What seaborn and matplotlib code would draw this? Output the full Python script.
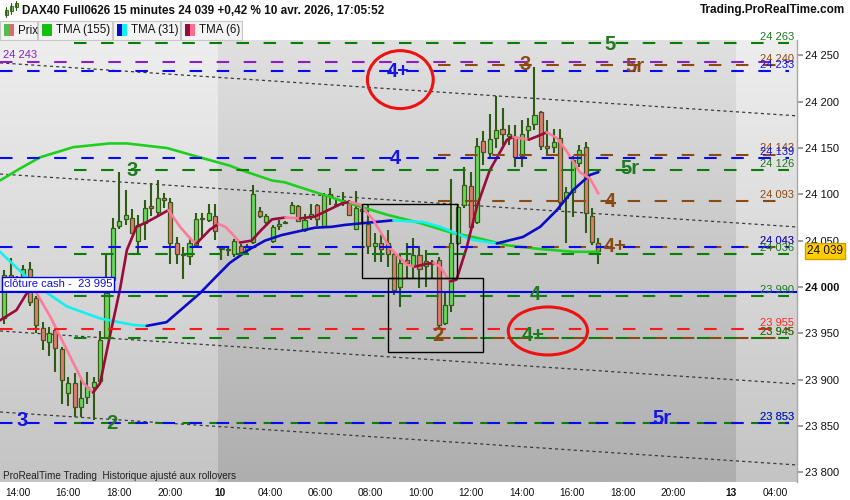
import numpy as np
import matplotlib
matplotlib.use("Agg")
import matplotlib.pyplot as plt
import matplotlib.transforms as mtransforms
import seaborn as sns
from matplotlib.patches import Rectangle, Ellipse

sns.set_theme(style="white")
plt.rcParams["font.family"] = ["Liberation Sans", "DejaVu Sans"]

# ---------------- data (15-minute bars, index 0 = 9 avr. 13:30) ----------------
opens = [23966, 24013, 24004, 24008, 24019, 23988, 23956, 23941, 23953, 23933,
         23886, 23896, 23870, 23881, 23892, 23898, 23945, 24007, 24066, 24073,
         24075, 24050, 24069, 24087, 24081, 24096, 24092, 24048, 24035, 24033,
         24045, 24073, 24072, 24077,
         24042, 24040, 24036, 24044, 24040, 24049, 24082, 24070, 24050, 24066,
         24069, 24080, 24087, 24061, 24076, 24088, 24066, 24100, 24090, 24092,
         24092, 24063, 24084, 24068, 24044, 24047, 24047, 24036, 24000, 24029,
         24024, 24035, 24023, 24027, 24029, 23961, 23981, 24047, 24088, 24109,
         24070, 24158, 24145, 24161, 24171, 24163, 24162, 24141, 24169, 24176,
         24189, 24152, 24151, 24161, 24096, 24103, 24134, 24151, 24077, 24048]
highs = [24018, 24031, 24012, 24024, 24027, 23990, 23962, 23957, 23955, 23935,
         23903, 23907, 23900, 23908, 23903, 23952, 24036, 24074, 24124, 24105,
         24084, 24078, 24094, 24112, 24116, 24101, 24096, 24054, 24043, 24052,
         24080, 24080, 24090, 24090,
         24043, 24042, 24052, 24046, 24046, 24110, 24086, 24079, 24067, 24072,
         24071, 24092, 24089, 24079, 24090, 24090, 24101, 24107, 24094, 24103,
         24094, 24104, 24090, 24088, 24058, 24056, 24062, 24037, 24036, 24047,
         24053, 24044, 24040, 24029, 24032, 23993, 24117, 24090, 24130, 24124,
         24161, 24168, 24187, 24206, 24193, 24175, 24175, 24180, 24182, 24238,
         24190, 24180, 24171, 24171, 24108, 24141, 24153, 24157, 24085, 24053]
lows = [23960, 24000, 23996, 24004, 23979, 23950, 23932, 23925, 23908, 23874,
        23871, 23860, 23860, 23874, 23856, 23896, 23944, 23999, 24063, 24067,
        24058, 24036, 24051, 24077, 24078, 24085, 24025, 24025, 24009, 24024,
        24043, 24054, 24070, 24051,
        24029, 24033, 24032, 24035, 24036, 24046, 24075, 24066, 24048, 24062,
        24068, 24079, 24070, 24059, 24072, 24066, 24065, 24089, 24086, 24087,
        24077, 24062, 24069, 24036, 24027, 24027, 24022, 23991, 23978, 24009,
        24009, 23999, 24000, 24009, 23955, 23959, 23973, 24045, 24085, 24060,
        24068, 24132, 24140, 24150, 24153, 24153, 24130, 24130, 24160, 24170,
        24148, 24141, 24145, 24083, 24047, 24076, 24130, 24058, 24045, 24025]
closes = [24013, 24004, 24008, 24019, 23984, 23959, 23943, 23950, 23934, 23900,
          23896, 23870, 23880, 23892, 23897, 23943, 23993, 24064, 24071, 24078,
          24058, 24067, 24085, 24085, 24096, 24094, 24047, 24036, 24036, 24048,
          24073, 24075, 24080, 24060,
          24041, 24041, 24050, 24038, 24044, 24100, 24077, 24077, 24065, 24068,
          24070, 24088, 24071, 24072, 24079, 24073, 24099, 24098, 24088, 24094,
          24078, 24085, 24082, 24044, 24047, 24041, 24036, 23997, 24026, 24026,
          24034, 24019, 24028, 24025, 23959, 23981, 24047, 24086, 24110, 24065,
          24152, 24146, 24160, 24170, 24165, 24165, 24140, 24165, 24174, 24186,
          24152, 24150, 24157, 24092, 24103, 24137, 24148, 24080, 24049, 24039]

# moving averages (bar index, price)
tma155_x = [-0.67, 2.5, 5.6, 10.8, 16.5, 19.2, 25.5, 30.6, 35.3, 37.2, 41.9, 43.9,
            50.2, 53.3, 59.9, 65.1, 70.3, 73.4, 78.7, 83.9, 89.1, 93]
tma155_y = [24115, 24128, 24140, 24151, 24155, 24155, 24150, 24140, 24131, 24126,
            24115, 24113, 24099, 24092, 24078, 24069, 24058, 24054, 24045, 24041,
            24038, 24038]
tma31_x = [-0.67, 4.5, 9.8, 15.0, 20.2, 22.3, 25.4, 30.6, 33.0, 35.3, 38.2, 40.8,
           43.4, 46.0, 48.6, 51.3, 53.3, 57.8, 60.9, 65.6, 68.2, 72.1, 73.4, 77.1,
           81.2, 83.9, 86.5, 89.1, 91.7, 93.0]
tma31_y = [24038, 24004, 23979, 23966, 23959, 23958, 23962, 23993, 24010, 24026,
           24040, 24050, 24056, 24060, 24064, 24065, 24067, 24070, 24072, 24070,
           24065, 24054, 24051, 24047, 24054, 24065, 24083, 24105, 24121, 24124]
tma6_x = [-0.67, 1.9, 3.5, 4.5, 7.2, 9.8, 12.4, 13.9, 15.0, 16.5, 18.1, 19.2, 20.7,
          22.3, 23.9, 25.7, 27.5, 29.3, 30.1, 32.2, 33.5, 34.6, 35.6, 36.9, 38.7,
          40.3, 41.9, 44.0, 46.3, 48.6, 50.7, 52.8, 54.1, 55.7, 57.8, 60.4, 63.0,
          64.3, 66.1, 67.2, 68.2, 69.8, 70.8, 72.4, 74.0, 76.0, 78.7, 79.7, 82.1,
          83.9, 84.9, 86.5, 88.1, 90.1, 91.7, 93.0]
tma6_y = [23964, 23975, 23993, 24000, 23968, 23932, 23896, 23886, 23896, 23946,
          23997, 24040, 24065, 24070, 24076, 24083, 24065, 24051, 24047, 24062,
          24068, 24065, 24058, 24048, 24050, 24062, 24073, 24075, 24074, 24076,
          24083, 24090, 24092, 24089, 24072, 24042, 24024, 24022, 24025, 24026,
          24022, 24006, 24008, 24043, 24087, 24126, 24159, 24162, 24159, 24164,
          24167, 24161, 24146, 24124, 24117, 24101]

# horizontal levels
level_values = [24263, 24243, 24240, 24233, 24143, 24139, 24126, 24093, 24043,
                24043, 24036, 23990, 23955, 23945, 23945, 23853, 23853]
level_kinds = ["green", "purple", "brown", "blue", "brown", "blue", "green", "brown",
               "brown", "blue", "green", "green", "red", "brown", "green", "green", "blue"]
cash_close = 23995

# sloping dotted channel lines: price at left edge / right edge of the chart
trend_left = [24242, 24122, 23952.5, 23865]
trend_right = [24184.8, 24064.8, 23895.3, 23807.8]

# wave labels
wave_texts = ["5", "4+", "3", "5r", "4", "5r", "3", "4", "4+", "4", "4+", "2", "3", "2", "5r"]
wave_kinds = ["green", "blue", "brown", "brown", "blue", "green", "green", "brown",
              "brown", "green", "green", "brown", "blue", "green", "blue"]
wave_x = [94.8, 61.6, 81.5, 98.7, 61.2, 98.0, 20.0, 94.8, 95.6, 83.1, 82.8, 67.9, 2.8, 16.9, 103.0]
wave_y = [24262, 24233, 24240, 24238, 24139, 24128, 24126, 24092, 24044, 23992,
          23948, 23948, 23856, 23853, 23858]

tick_labels = ["14:00", "16:00", "18:00", "20:00", "10", "04:00", "06:00", "08:00",
               "10:00", "12:00", "14:00", "16:00", "18:00", "20:00", "13", "04:00"]
tick_pos = [2.15, 9.97, 17.96, 25.94, 33.77, 41.6, 49.4, 57.3, 65.2, 73.1, 81.1,
            88.9, 96.9, 104.7, 113.8, 120.7]
session_breaks = [33.5, 114.5]
last_price = closes[-1]

# ---------------- styling ----------------
COL = {"green": "#0a7d0a", "purple": "#8a1fc4", "brown": "#8b4a12", "blue": "#0a0af0",
       "red": "#ff1a1a"}
TXT = {"green": "#1f7a1f", "purple": "#8a1fc4", "brown": "#8b4a12", "blue": "#1414e6",
       "red": "#ff2a2a"}
level_start = {"green": 10.9, "purple": -0.7, "brown": 67.9, "blue": -0.7, "red": -0.7}

XL, XR = -0.67, 124.1
YB, YT = 23789.4, 24266.7

fig = plt.figure(figsize=(8.5, 5), dpi=100, facecolor="white")
ax = fig.add_axes([0, 18 / 500, 797 / 850, 442 / 500])
blend = mtransforms.blended_transform_factory(ax.transAxes, ax.transData)


def grad(top, bottom, n=256):
    t = np.linspace(0, 1, n)[:, None]
    top = np.array(top) / 255.0
    bottom = np.array(bottom) / 255.0
    return (top[None, :] * (1 - t) + bottom[None, :] * t)[:, None, :]


light = grad((238, 238, 238), (196, 196, 196))
dark = grad((224, 224, 224), (174, 174, 174))
bounds = [XL, session_breaks[0], session_breaks[1], XR]
for i, img in enumerate([light, dark, light]):
    ax.imshow(img, extent=(bounds[i], bounds[i + 1], YB, YT), aspect="auto",
              origin="upper", zorder=0, interpolation="bilinear")

# dotted channel lines
for a, b in zip(trend_left, trend_right):
    ax.plot([XL, XR], [a, b], color="#3a3a3a", lw=0.9, ls=(0, (2.5, 2.5)), zorder=1)

# candles
k = np.arange(len(opens))
o = np.array(opens); c = np.array(closes); h = np.array(highs); l = np.array(lows)
up = c >= o
ax.vlines(k, l, h, color="#2f5a12", lw=1.5, zorder=3)
body_h = np.maximum(np.abs(c - o), 1.0)
ax.bar(k, body_h, bottom=np.minimum(o, c), width=0.64,
       color=np.where(up, "#62dc5a", "#e47a72"), edgecolor="#3b5a1a", linewidth=0.9,
       zorder=3.5)


# moving averages
def two_tone(xs, ys, up_col, down_col, lw=1.9):
    xs = np.asarray(xs, float); ys = np.asarray(ys, float)
    rising = np.diff(ys) >= 0
    start = 0
    for i in range(1, len(rising) + 1):
        if i == len(rising) or rising[i] != rising[start]:
            seg = slice(start, i + 1)
            sns.lineplot(x=xs[seg], y=ys[seg], ax=ax, color=up_col if rising[start] else down_col,
                         lw=lw, sort=False, estimator=None, legend=False, zorder=4)
            start = i


sns.lineplot(x=tma155_x, y=tma155_y, ax=ax, color="#1fcf1f", lw=1.9, sort=False,
             estimator=None, legend=False, zorder=4)
two_tone(tma31_x, tma31_y, "#0c0cc8", "#12f0f0")
two_tone(tma6_x, tma6_y, "#9a0a3a", "#ff7a9a")

# levels
XEND = 122.9
for v, kind in zip(level_values, level_kinds):
    ax.plot([level_start[kind], XEND], [v, v], color=COL[kind], lw=1.5, ls=(0, (6, 7)),
            zorder=5, solid_capstyle="butt", dash_capstyle="butt")
    if kind != "purple":
        ax.annotate(f"{v:,}".replace(",", " "), xy=(0.9965, v),
                    xycoords=("axes fraction", "data"), xytext=(0, 0.8),
                    textcoords="offset points", ha="right", va="bottom",
                    fontsize=8, color=TXT[kind], zorder=6)
ax.text(0.004, 24250.5, "24 243", color=TXT["purple"], fontsize=8, va="center",
        ha="left", transform=blend, zorder=6)

ax.axhline(cash_close, color="#0000ee", lw=1.5, zorder=5)
ax.text(0.005, cash_close + 8.5, "clôture cash -  23 995", transform=blend, fontsize=8.1,
        color="#1010e0", va="center", ha="left", zorder=7,
        bbox=dict(boxstyle="square,pad=0.17", fc="white", ec="#0000ee", lw=1))

# boxes and ellipses
ax.add_patch(Rectangle((56.05, 24009.4), 14.85, 79.9, fill=False, ec="black", lw=1, zorder=6))
ax.add_patch(Rectangle((60.0, 23930.3), 15.0, 79.1, fill=False, ec="black", lw=1, zorder=6))
ax.add_patch(Ellipse((62.0, 24223.9), 10.3, 62.6, fill=False, ec="#ee1111", lw=2.2, zorder=7))
ax.add_patch(Ellipse((85.1, 23952.5), 12.4, 51.8, fill=False, ec="#ee1111", lw=2.2, zorder=7))

# wave labels
for t, kind, x, y in zip(wave_texts, wave_kinds, wave_x, wave_y):
    ax.text(x, y, t, color=TXT[kind], fontsize=14.5, fontweight="bold", ha="center",
            va="center", zorder=8)

ax.text(0.004, 0.014, "ProRealTime Trading  Historique ajusté aux rollovers",
        transform=ax.transAxes, fontsize=7.2, color="#222222", va="center", ha="left", zorder=8)

# axes formatting
ax.set_xlim(XL, XR)
ax.set_ylim(YB, YT)
ax.set_xlabel(""); ax.set_ylabel("")
yt = list(range(23800, 24251, 50))
ax.yaxis.tick_right()
ax.set_yticks(yt)
ax.set_yticklabels([f"{v:,}".replace(",", " ") for v in yt])
for lab, v in zip(ax.get_yticklabels(), yt):
    if v == 24000:
        lab.set_fontweight("bold")
ax.tick_params(axis="y", labelsize=8, length=4, color="#909090", pad=2, right=True,
               labelcolor="#111111")
ax.set_xticks(tick_pos)
ax.set_xticklabels(tick_labels)
for lab, t in zip(ax.get_xticklabels(), tick_labels):
    if ":" not in t:
        lab.set_fontweight("bold"); lab.set_fontsize(8.5)
ax.tick_params(axis="x", labelsize=7.3, length=0, pad=4, labelcolor="#111111")
for s in ["top", "left", "bottom"]:
    ax.spines[s].set_visible(False)
ax.spines["right"].set_color("#a8a8a8")
ax.spines["right"].set_linewidth(1)

# current price box
ax.text(1.0125, last_price, f"{last_price:,}".replace(",", " "), transform=blend,
        fontsize=8.5, ha="left", va="center", color="#111111", zorder=9, clip_on=False,
        bbox=dict(boxstyle="square,pad=0.18", fc="#ffcc00", ec="#c9a100", lw=1))


# ---------------- header & legend ----------------
def fx(px):
    return px / 850.0


def fy(py):
    return 1 - py / 500.0


for cx, y0, y1, b0, b1 in [(6, 7, 17, 10, 15), (11, 3, 14, 6, 11), (16, 1, 10, 3, 7)]:
    fig.add_artist(plt.Line2D([fx(cx), fx(cx)], [fy(y0), fy(y1)], color="#2f5a12", lw=0.8))
    fig.add_artist(Rectangle((fx(cx - 1.5), fy(b1)), 3 / 850, (b1 - b0) / 500,
                             transform=fig.transFigure, fc="#62d85a", ec="#2f5a12", lw=0.6))
fig.text(fx(22), fy(10.5), "DAX40 Full0626 15 minutes 24 039 +0,42 % 10 avr. 2026, 17:05:52",
         fontsize=8.5, fontweight="bold", ha="left", va="center", color="#111111")
fig.text(fx(845), fy(10.5), "Trading.ProRealTime.com", fontsize=8.5, fontweight="bold",
         ha="right", va="center", color="#111111")

legend_boxes = [(0, 37, "Prix", ["#4cc24c", "#e06a6a"]),
                (38, 112, "TMA (155)", ["#11c011"]),
                (113, 180, "TMA (31)", ["#0c0cc8", "#12f0f0"]),
                (181, 242, "TMA (6)", ["#9a0a3a", "#ff6f92"])]
for x0, x1, label, cols in legend_boxes:
    fig.add_artist(Rectangle((fx(x0), fy(40)), (x1 - x0) / 850, 19 / 500,
                             transform=fig.transFigure, fc="#f3f3f3", ec="#c8c8c8", lw=0.8))
    sw = 10.0 / len(cols)
    for j, col in enumerate(cols):
        fig.add_artist(Rectangle((fx(x0 + 4 + j * sw), fy(36)), sw / 850, 12 / 500,
                                 transform=fig.transFigure, fc=col, ec="none"))
    fig.text(fx(x0 + 18), fy(30.5), label, fontsize=8.3, ha="left", va="center", color="#111111")

fig.savefig("out.png", dpi=100, facecolor="white")
